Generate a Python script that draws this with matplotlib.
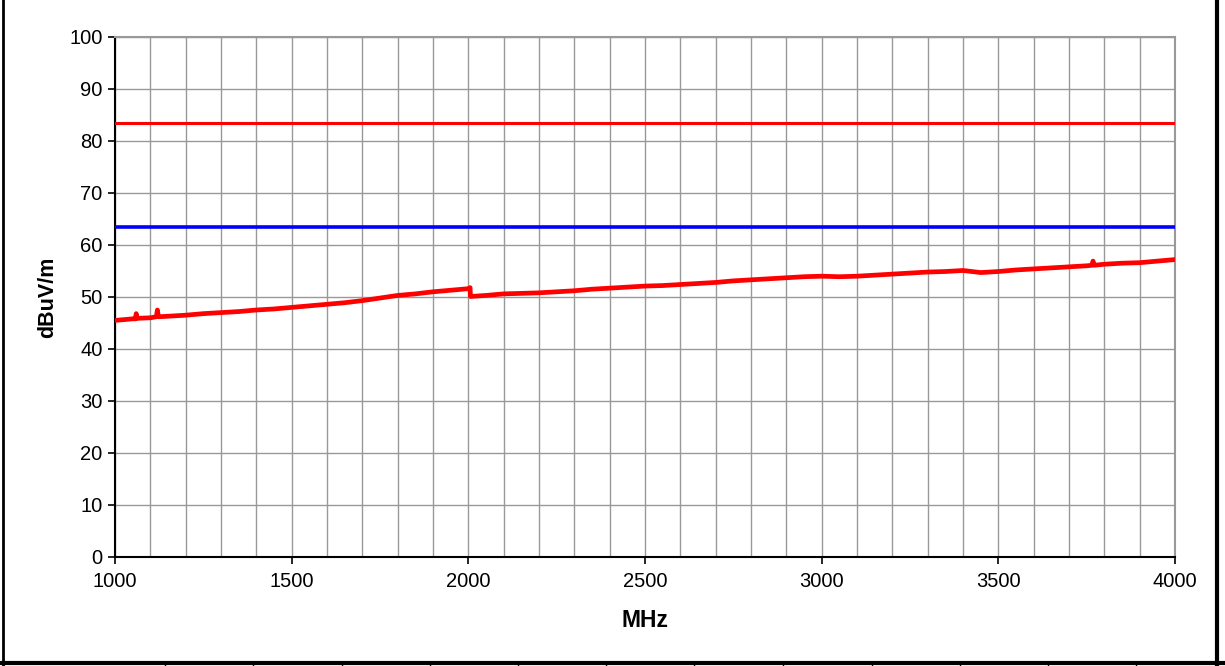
import numpy as np
import matplotlib.pyplot as plt
from matplotlib.lines import Line2D

plt.rcParams['font.family'] = ['Liberation Sans', 'DejaVu Sans']

# measured emission trace (MHz, dBuV/m)
freq_mhz = [1000, 1050, 1058, 1060, 1063, 1100, 1117, 1120, 1123, 1150, 1200, 1250,
            1300, 1350, 1400, 1450, 1500, 1550, 1600, 1650, 1700, 1750, 1800, 1850,
            1900, 1950, 2000, 2005, 2006, 2050, 2100, 2150, 2200, 2250, 2300, 2350,
            2400, 2450, 2500, 2550, 2600, 2650, 2700, 2750, 2800, 2850, 2900, 2950,
            3000, 3050, 3100, 3150, 3200, 3250, 3300, 3350, 3400, 3450, 3500, 3550,
            3600, 3650, 3700, 3750, 3765, 3768, 3771, 3800, 3850, 3900, 3950, 4000]
level_dbuv = [45.5, 45.8, 45.8, 46.8, 45.9, 46.0, 46.2, 47.5, 46.2, 46.3, 46.5, 46.8,
              47.0, 47.2, 47.5, 47.7, 48.0, 48.3, 48.6, 48.9, 49.3, 49.8, 50.3, 50.6,
              51.0, 51.3, 51.6, 51.8, 50.1, 50.3, 50.6, 50.7, 50.8, 51.0, 51.2, 51.5,
              51.7, 51.9, 52.1, 52.2, 52.4, 52.6, 52.8, 53.1, 53.3, 53.5, 53.7, 53.9,
              54.0, 53.9, 54.0, 54.2, 54.4, 54.6, 54.8, 54.9, 55.1, 54.7, 54.9, 55.2,
              55.4, 55.6, 55.8, 56.0, 56.1, 56.9, 56.1, 56.3, 56.5, 56.6, 56.9, 57.2]

limit_peak = 83.5
limit_avg = 63.5

fig = plt.figure(figsize=(12.25, 6.66), dpi=100)
ax = fig.add_axes([115 / 1225, 109 / 666, 1060 / 1225, 520 / 666])

ax.plot(freq_mhz, level_dbuv, color='#ff0000', lw=3.4, solid_joinstyle='round', zorder=4)
ax.axhline(limit_peak, color='#ff0000', lw=2.2, zorder=3)
ax.axhline(limit_avg, color='#0000ff', lw=2.6, zorder=3)

ax.set_xlim(1000, 4000)
ax.set_ylim(0, 100)
ax.set_xticks(np.arange(1000, 4001, 500))
ax.set_xticks(np.arange(1000, 4001, 100), minor=True)
ax.set_yticks(np.arange(0, 101, 10))
ax.grid(True, which='both', color='#999999', lw=1.0)
ax.set_axisbelow(True)

ax.tick_params(axis='both', which='major', direction='out', length=5, width=1.2,
               labelsize=14.5, color='black')
ax.tick_params(axis='x', which='minor', length=0)
ax.tick_params(axis='x', pad=6)
ax.tick_params(axis='y', pad=4)

for side in ['left', 'bottom']:
    ax.spines[side].set_color('black')
    ax.spines[side].set_linewidth(1.5)
for side in ['top', 'right']:
    ax.spines[side].set_color('#999999')
    ax.spines[side].set_linewidth(1.5)

ax.set_xlabel('MHz', fontsize=16.5, fontweight='bold', labelpad=13)
ax.set_ylabel('dBuV/m', fontsize=15.5, fontweight='bold', labelpad=8)

# page frame and table rules underneath
W, H = 1225, 666
fig.add_artist(Line2D([3 / W, 3 / W], [0, 1], color='black', lw=2.0))
fig.add_artist(Line2D([1217 / W, 1217 / W], [0, 1], color='black', lw=3.0))
fig.add_artist(Line2D([0, 1], [3 / H, 3 / H], color='black', lw=3.0))
for xc in [165, 253, 342, 430, 518, 606, 694, 783, 872, 960, 1048, 1136]:
    fig.add_artist(Line2D([xc / W, xc / W], [0, 2 / H], color='black', lw=1.0))

fig.savefig('out.png', dpi=100)
